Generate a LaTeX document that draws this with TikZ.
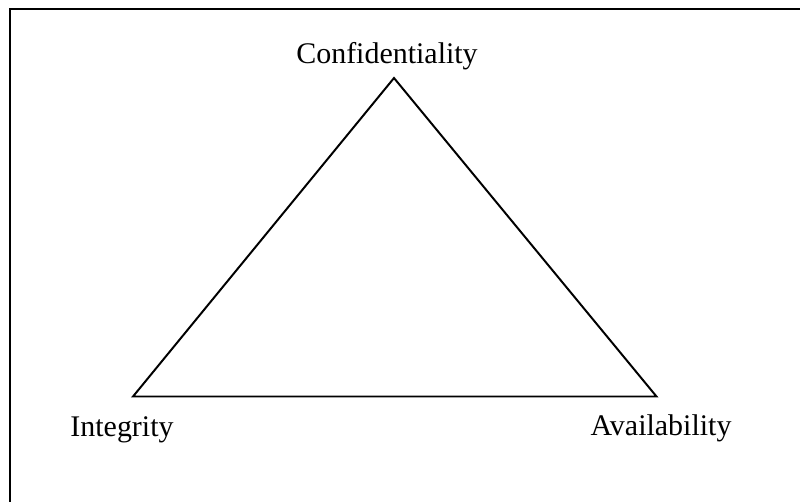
\documentclass[tikz,border=0pt]{standalone}
\usepackage{fontspec}
\setmainfont{Liberation Serif}
\usepackage{tikz}
\usetikzlibrary{positioning}

\begin{document}
\begin{tikzpicture}[x=0.025cm, y=-0.025cm, line width=1.4pt,
  label/.style={anchor=base, inner sep=0pt, font=\fontsize{21.3}{25}\selectfont}]

\useasboundingbox (0,0) rectangle (800,502);

% Frame
\coordinate (frameTL) at (10,9);
\coordinate (frameTR) at (800,9);
\coordinate (frameBL) at (10,502);
\draw[line width=1.3pt] (frameTR) -- (frameTL) -- (frameBL);

% Define corners
\coordinate (top) at (394,78);
\coordinate (left) at (133,396.5);
\coordinate (right) at (656.5,396.5);

% Define labels
\node[label] (conf) at (387,63) {Confidentiality};
\node[label] (integ) at (122,436) {Integrity};
\node[label] (avail) at (661,435.5) {Availability};

% Draw triangle
\draw[line join=miter] (top) -- (right) -- (left) -- cycle;

\end{tikzpicture}
\end{document}
